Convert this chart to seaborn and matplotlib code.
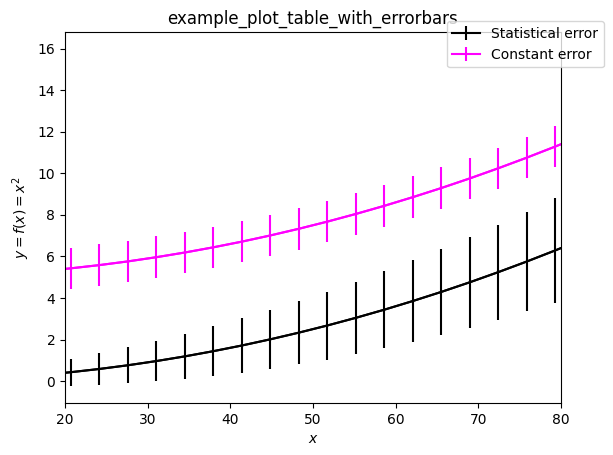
import seaborn as sns
import matplotlib.pyplot as plt
import pandas as pd

x = [0.0, 3.448, 6.897, 10.345, 13.793, 17.241, 20.690, 24.138, 27.586, 31.034,
     34.483, 37.931, 41.379, 44.828, 48.276, 51.724, 55.172, 58.621, 62.069, 65.517,
     68.966, 72.414, 75.862, 79.310, 82.759, 86.207, 89.655, 93.103, 96.552, 100.0]
y_stat = [0.0, 0.012, 0.048, 0.107, 0.190, 0.297, 0.428, 0.583, 0.761, 0.963,
          1.189, 1.439, 1.712, 2.010, 2.331, 2.675, 3.044, 3.436, 3.853, 4.292,
          4.756, 5.244, 5.755, 6.290, 6.849, 7.432, 8.038, 8.668, 9.322, 10.0]
err_stat = [0.0, 0.109, 0.218, 0.327, 0.436, 0.545, 0.654, 0.763, 0.872, 0.981,
            1.090, 1.199, 1.309, 1.418, 1.527, 1.636, 1.745, 1.854, 1.963, 2.072,
            2.181, 2.290, 2.399, 2.508, 2.617, 2.726, 2.835, 2.944, 3.053, 3.162]
y_const = [5.0, 5.012, 5.048, 5.107, 5.190, 5.297, 5.428, 5.583, 5.761, 5.963,
           6.189, 6.439, 6.712, 7.010, 7.331, 7.675, 8.044, 8.436, 8.853, 9.292,
           9.756, 10.244, 10.755, 11.290, 11.849, 12.432, 13.038, 13.668, 14.322, 15.0]
err_const = [1.0] * 30

df = pd.DataFrame({"x": x, "stat": y_stat, "const": y_const})

fig, ax = plt.subplots(figsize=(6.13, 4.55), dpi=100)
fig.subplots_adjust(left=0.106, right=0.915, top=0.930, bottom=0.114)

sns.lineplot(data=df, x="x", y="stat", color="black", ax=ax, legend=False)
sns.lineplot(data=df, x="x", y="const", color="magenta", ax=ax, legend=False)
ax.errorbar(x, y_stat, yerr=err_stat, color="black", label="Statistical error")
ax.errorbar(x, y_const, yerr=err_const, color="magenta", label="Constant error")

ax.set_xlim(20, 80)
ax.set_title("example_plot_table_with_errorbars")
ax.set_xlabel("$x$")
ax.set_ylabel("$y = f(x) = x^2$")
fig.legend(loc="upper right", bbox_to_anchor=(0.985, 0.953), borderaxespad=0)

plt.savefig("out.png")
